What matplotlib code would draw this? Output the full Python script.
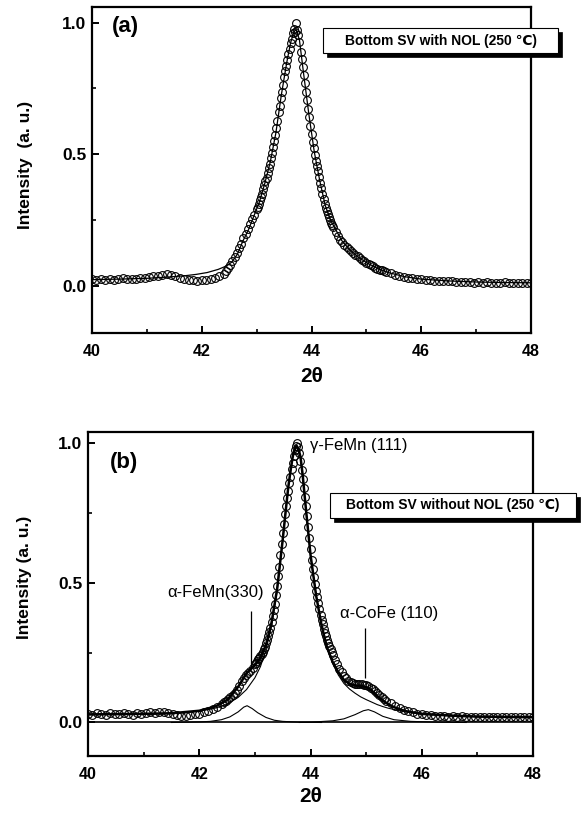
import numpy as np
import matplotlib
matplotlib.use("Agg")
import matplotlib.pyplot as plt
from matplotlib.patches import Rectangle

plt.rcParams['font.family'] = ['Liberation Sans', 'DejaVu Sans']

# ---------------- data ----------------
# scan grid (2theta, degrees): coarser in the background, finer on the peak
two_theta = np.round(np.r_[np.arange(40.0, 42.36, 0.08),
                           np.arange(42.40, 42.98, 0.04),
                           np.arange(43.00, 44.41, 0.02),
                           np.arange(44.44, 45.38, 0.04),
                           np.arange(45.44, 48.01, 0.08)], 2)

# panel (a): Bottom SV with NOL, measured intensity
int_a = [
    # 40.00 - 42.32
    0.024, 0.020, 0.026, 0.022, 0.027, 0.023, 0.025, 0.029, 0.024, 0.027,
    0.026, 0.030, 0.028, 0.032, 0.035, 0.038, 0.041, 0.043, 0.040, 0.036,
    0.031, 0.027, 0.022, 0.020, 0.019, 0.022, 0.021, 0.026, 0.029, 0.036,
    # 42.40 - 42.96
    0.045, 0.055, 0.066, 0.080, 0.095, 0.110, 0.125, 0.142, 0.160, 0.180,
    0.198, 0.215, 0.233, 0.252, 0.270,
    # 43.00 - 44.40
    0.290, 0.300, 0.312, 0.326, 0.338, 0.350, 0.366, 0.383, 0.398, 0.411,
    0.428, 0.446, 0.462, 0.485, 0.505, 0.527, 0.550, 0.575, 0.600, 0.628,
    0.660, 0.684, 0.712, 0.738, 0.765, 0.792, 0.815, 0.836, 0.858, 0.880,
    0.900, 0.922, 0.940, 0.962, 0.975, 0.965, 1.000, 0.972, 0.955, 0.925,
    0.890, 0.862, 0.830, 0.800, 0.770, 0.738, 0.705, 0.672, 0.640, 0.608,
    0.578, 0.548, 0.522, 0.497, 0.475, 0.455, 0.435, 0.412, 0.392, 0.370,
    0.350, 0.330, 0.310, 0.296, 0.283, 0.271, 0.260, 0.250, 0.240, 0.231,
    0.222,
    # 44.44 - 45.36
    0.205, 0.188, 0.175, 0.165, 0.156, 0.147, 0.139, 0.132, 0.125, 0.118,
    0.111, 0.105, 0.099, 0.093, 0.087, 0.082, 0.077, 0.073, 0.069, 0.065,
    0.061, 0.058, 0.055, 0.052,
    # 45.44 - 48.00
    0.047, 0.042, 0.037, 0.034, 0.031, 0.028, 0.026, 0.024, 0.022, 0.021,
    0.019, 0.018, 0.018, 0.016, 0.017, 0.014, 0.015, 0.013, 0.015, 0.012,
    0.013, 0.011, 0.014, 0.010, 0.012, 0.011, 0.013, 0.009, 0.012, 0.010,
    0.011, 0.009, 0.011,
]

# panel (a): fitted curve
fit_a_x = [40.0, 40.5, 41.0, 41.4, 41.7, 41.9, 42.1, 42.3, 42.45, 42.55,
           42.65, 42.75, 42.85, 42.95, 43.05, 43.15, 43.25, 43.35, 43.45, 43.55,
           43.62, 43.68, 43.72, 43.78, 43.86, 43.95, 44.05, 44.15, 44.25, 44.35,
           44.45, 44.55, 44.70, 44.85, 45.0, 45.2, 45.4, 45.7, 46.0, 46.5,
           47.0, 47.5, 48.0]
fit_a_y = [0.023, 0.025, 0.028, 0.033, 0.038, 0.043, 0.050, 0.062, 0.075, 0.090,
           0.120, 0.170, 0.212, 0.265, 0.318, 0.390, 0.472, 0.580, 0.725, 0.850,
           0.925, 0.965, 0.975, 0.935, 0.800, 0.655, 0.510, 0.400, 0.305, 0.248,
           0.210, 0.172, 0.136, 0.109, 0.088, 0.066, 0.050, 0.034, 0.025, 0.018,
           0.014, 0.012, 0.011]

# panel (b): Bottom SV without NOL, measured intensity
int_b = [
    # 40.00 - 42.32
    0.032, 0.028, 0.034, 0.030, 0.027, 0.033, 0.029, 0.031, 0.035, 0.030,
    0.028, 0.033, 0.031, 0.034, 0.036, 0.035, 0.038, 0.037, 0.035, 0.031,
    0.027, 0.024, 0.025, 0.027, 0.029, 0.032, 0.036, 0.041, 0.047, 0.055,
    # 42.40 - 42.96
    0.066, 0.072, 0.078, 0.084, 0.090, 0.097, 0.106, 0.118, 0.132, 0.147,
    0.160, 0.170, 0.178, 0.186, 0.196,
    # 43.00 - 44.40
    0.208, 0.214, 0.220, 0.226, 0.232, 0.238, 0.245, 0.253, 0.262, 0.272,
    0.283, 0.295, 0.308, 0.323, 0.340, 0.360, 0.380, 0.402, 0.425, 0.456,
    0.490, 0.524, 0.558, 0.600, 0.640, 0.678, 0.712, 0.745, 0.775, 0.803,
    0.830, 0.856, 0.880, 0.906, 0.930, 0.955, 0.975, 0.990, 1.000, 0.985,
    0.965, 0.936, 0.905, 0.873, 0.840, 0.808, 0.775, 0.738, 0.700, 0.660,
    0.620, 0.582, 0.548, 0.520, 0.495, 0.471, 0.448, 0.426, 0.405, 0.386,
    0.368, 0.351, 0.335, 0.321, 0.308, 0.296, 0.285, 0.274, 0.263, 0.253,
    0.243,
    # 44.44 - 45.36
    0.225, 0.208, 0.193, 0.180, 0.168, 0.158, 0.150, 0.145, 0.141, 0.139,
    0.138, 0.137, 0.136, 0.135, 0.133, 0.130, 0.125, 0.119, 0.112, 0.104,
    0.097, 0.091, 0.084, 0.077,
    # 45.44 - 48.00
    0.068, 0.060, 0.051, 0.045, 0.040, 0.036, 0.032, 0.030, 0.027, 0.026,
    0.024, 0.023, 0.024, 0.021, 0.022, 0.020, 0.022, 0.019, 0.021, 0.020,
    0.018, 0.021, 0.019, 0.020, 0.018, 0.021, 0.019, 0.020, 0.018, 0.020,
    0.019, 0.018, 0.020,
]

# panel (b): total fit
fit_b_x = [40.0, 40.5, 41.0, 41.5, 42.0, 42.3, 42.5, 42.7, 42.85, 43.0,
           43.1, 43.2, 43.3, 43.4, 43.5, 43.55, 43.6, 43.64, 43.68, 43.71,
           43.75, 43.79, 43.82, 43.86, 43.9, 43.95, 44.0, 44.1, 44.2, 44.3,
           44.4, 44.5, 44.6, 44.7, 44.8, 44.9, 45.0, 45.1, 45.2, 45.3,
           45.4, 45.5, 45.7, 46.0, 46.5, 47.0, 48.0]
fit_b_y = [0.029, 0.030, 0.031, 0.033, 0.042, 0.058, 0.080, 0.128, 0.176, 0.205,
           0.232, 0.278, 0.358, 0.478, 0.654, 0.750, 0.842, 0.900, 0.951, 0.975,
           0.991, 0.975, 0.951, 0.885, 0.800, 0.700, 0.601, 0.456, 0.346, 0.267,
           0.216, 0.180, 0.153, 0.138, 0.133, 0.130, 0.127, 0.115, 0.094, 0.079,
           0.065, 0.055, 0.041, 0.031, 0.025, 0.021, 0.019]

# panel (b): gamma-FeMn (111) component
gfemn_x = [40.0, 40.5, 41.0, 41.5, 42.0, 42.3, 42.5, 42.7, 42.85, 43.0,
           43.1, 43.2, 43.3, 43.4, 43.5, 43.6, 43.68, 43.75, 43.82, 43.9,
           44.0, 44.1, 44.2, 44.3, 44.4, 44.5, 44.6, 44.7, 44.8, 44.9,
           45.0, 45.1, 45.2, 45.3, 45.4, 45.7, 46.0, 46.5, 47.0, 48.0]
gfemn_y = [0.028, 0.029, 0.030, 0.032, 0.040, 0.052, 0.065, 0.090, 0.118, 0.160,
           0.200, 0.260, 0.345, 0.470, 0.650, 0.840, 0.950, 0.990, 0.950, 0.800,
           0.600, 0.455, 0.345, 0.265, 0.210, 0.170, 0.140, 0.120, 0.105, 0.092,
           0.082, 0.073, 0.064, 0.057, 0.051, 0.038, 0.030, 0.024, 0.021, 0.019]

# panel (b): alpha-FeMn (330) component
afemn_x = [41.5, 42.0, 42.2, 42.4, 42.55, 42.7, 42.8, 42.86, 42.95, 43.05,
           43.2, 43.35, 43.5, 43.8, 44.2]
afemn_y = [0.000, 0.002, 0.004, 0.010, 0.020, 0.038, 0.055, 0.060, 0.050, 0.035,
           0.018, 0.008, 0.004, 0.001, 0.000]

# panel (b): alpha-CoFe (110) component
acofe_x = [43.8, 44.0, 44.4, 44.6, 44.8, 44.95, 45.04, 45.15, 45.3, 45.5,
           45.8, 46.3, 46.8]
acofe_y = [0.000, 0.001, 0.006, 0.013, 0.028, 0.042, 0.046, 0.038, 0.022, 0.010,
           0.004, 0.001, 0.000]

x_ticks = [40, 42, 44, 46, 48]
y_ticks = [0.0, 0.5, 1.0]

# annotation positions (panel b)
peak_labels = ["γ-FeMn (111)", "α-FeMn(330)", "α-CoFe (110)"]
peak_label_xy = [(43.99, 0.99), (41.42, 0.466), (44.53, 0.39)]
leader_x = [42.93, 44.98]
leader_lo = [0.20, 0.16]
leader_hi = [0.40, 0.337]

# ---------------- figure ----------------
fig = plt.figure(figsize=(5.84, 8.16), dpi=100)
ax_a = fig.add_axes([92 / 584, 1 - 333 / 816, 439 / 584, 326 / 816])
ax_b = fig.add_axes([88 / 584, 1 - 756 / 816, 445 / 584, 324 / 816])

mk = dict(marker='o', ms=5.6, mfc='none', mec='black', mew=0.8, ls='none')


def style(ax, ylim):
    ax.set_xlim(40, 48)
    ax.set_ylim(*ylim)
    ax.set_xticks(x_ticks)
    ax.set_xticks([41, 43, 45, 47], minor=True)
    ax.set_yticks(y_ticks)
    ax.set_yticks([0.25, 0.75], minor=True)
    ax.tick_params(which='major', direction='in', length=5, width=1.4)
    ax.tick_params(which='minor', direction='in', length=3, width=1.2)
    ax.tick_params(axis='x', pad=8, labelsize=11.5)
    ax.tick_params(axis='y', pad=4, labelsize=12.5)
    for lab in ax.get_xticklabels() + ax.get_yticklabels():
        lab.set_fontweight('bold')
    for s in ax.spines.values():
        s.set_linewidth(1.6)


# panel (a)
ax_a.plot(fit_a_x, fit_a_y, color='black', lw=0.9)
ax_a.plot(two_theta, int_a, **mk)
style(ax_a, (-0.18, 1.06))
ax_a.set_ylabel('Intensity  (a. u.)', fontsize=12.5, fontweight='bold')
ax_a.yaxis.set_label_coords(-0.134, 0.515)
ax_a.set_xlabel('2θ', fontsize=15, fontweight='bold')
ax_a.xaxis.set_label_coords(0.5, -0.105)
ax_a.text(0.046, 0.939, '(a)', transform=ax_a.transAxes, fontsize=16,
          fontweight='bold', ha='left', va='center')

# panel (b)
ax_b.axhline(0, color='black', lw=1.2)
ax_b.plot(afemn_x, afemn_y, color='black', lw=0.8)
ax_b.plot(acofe_x, acofe_y, color='black', lw=0.8)
ax_b.plot(gfemn_x, gfemn_y, color='black', lw=0.8)
ax_b.plot(fit_b_x, fit_b_y, color='black', lw=1.8)
ax_b.plot(two_theta, int_b, **mk)
style(ax_b, (-0.12, 1.04))
ax_b.set_ylabel('Intensity (a. u.)', fontsize=12.5, fontweight='bold')
ax_b.yaxis.set_label_coords(-0.126, 0.552)
ax_b.set_xlabel('2θ', fontsize=15, fontweight='bold')
ax_b.xaxis.set_label_coords(0.5, -0.096)
ax_b.text(0.049, 0.907, '(b)', transform=ax_b.transAxes, fontsize=16,
          fontweight='bold', ha='left', va='center')
for lab, (lx, ly) in zip(peak_labels, peak_label_xy):
    ax_b.text(lx, ly, lab, fontsize=12, ha='left', va='center')
ax_b.vlines(leader_x, leader_lo, leader_hi, color='black', lw=0.9)


# shadowed label boxes
def shadow_box(x0, y0, x1, y1, text):
    w = (x1 - x0) / 584
    h = (y1 - y0) / 816
    fx = x0 / 584
    fy = 1 - y1 / 816
    fig.add_artist(Rectangle((fx + 4 / 584, fy - 4 / 816), w, h,
                             transform=fig.transFigure, facecolor='black',
                             edgecolor='black', lw=0.5, zorder=5))
    fig.add_artist(Rectangle((fx, fy), w, h, transform=fig.transFigure,
                             facecolor='white', edgecolor='black', lw=0.8,
                             zorder=6))
    fig.text(fx + w / 2, fy + h / 2, text, fontsize=10, fontweight='bold',
             ha='center', va='center', zorder=7)


shadow_box(323, 28, 558, 53, 'Bottom SV with NOL (250 ℃)')
shadow_box(330, 493, 576, 518, 'Bottom SV without NOL (250 ℃)')

fig.savefig('out.png', dpi=100)
